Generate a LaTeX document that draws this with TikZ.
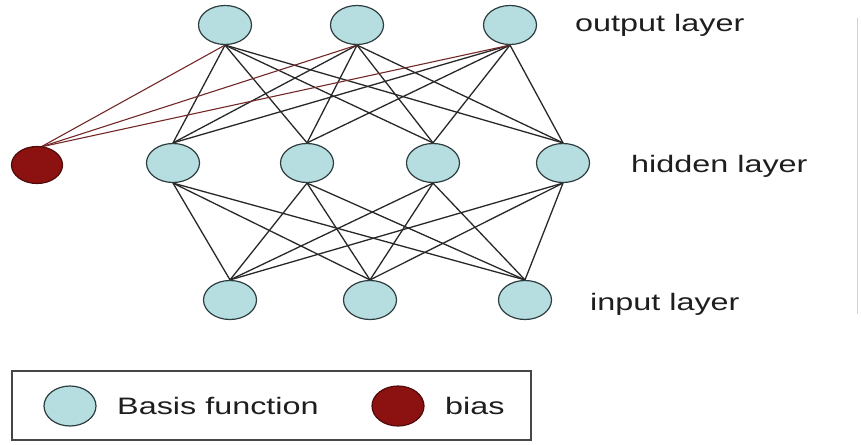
\documentclass[tikz,border=0pt]{standalone}
\usepackage{fontspec}
\setmainfont{Liberation Sans}
\usetikzlibrary{shapes.geometric,backgrounds}

\definecolor{basisfill}{RGB}{182,222,225}
\definecolor{basisedge}{RGB}{45,60,62}
\definecolor{biasfill}{RGB}{140,18,18}
\definecolor{biasedge}{RGB}{80,10,10}
\definecolor{linkcol}{RGB}{40,40,40}
\definecolor{biaslink}{RGB}{115,40,40}
\definecolor{framecol}{RGB}{70,70,70}
\definecolor{textcol}{RGB}{30,30,30}

\newcommand{\widetext}[1]{\scalebox{1.36}[1]{#1}}

\tikzset{
  unit/.style={ellipse, draw=basisedge, line width=1.2pt, fill=basisfill,
    minimum width=53pt, minimum height=39pt, inner sep=0pt},
  biasunit/.style={ellipse, draw=biasedge, line width=1.2pt, fill=biasfill,
    minimum width=51pt, minimum height=37pt, inner sep=0pt},
  link/.style={draw=linkcol, line width=1.3pt},
  blink/.style={draw=biaslink, line width=1.1pt},
  caption/.style={anchor=base west, inner sep=0pt, text=textcol,
    font=\fontsize{23.8}{27}\selectfont},
}

\begin{document}
\begin{tikzpicture}[x=1pt, y=-1pt]
  \useasboundingbox (0,0) rectangle (861,444);

  % output layer
  \node[unit] (o1) at (225,25) {};
  \node[unit] (o2) at (357,25) {};
  \node[unit] (o3) at (510,25) {};
  % hidden layer
  \node[unit] (h1) at (173,163) {};
  \node[unit] (h2) at (307,163) {};
  \node[unit] (h3) at (433,163) {};
  \node[unit] (h4) at (563,163) {};
  % input layer
  \node[unit] (i1) at (230,300) {};
  \node[unit] (i2) at (370,300) {};
  \node[unit] (i3) at (525,300) {};
  % bias unit
  \node[biasunit] (b) at (37,165) {};
  \coordinate (bt) at ([shift={(4,1)}]b.north);

  % connections, kept behind the units
  \begin{pgfonlayer}{background}
    \foreach \o in {o1,o2,o3}
      \foreach \h in {h1,h2,h3,h4}
        \draw[link] (\o.south) -- (\h.north);
    \foreach \h in {h1,h2,h3,h4}
      \foreach \i in {i1,i2,i3}
        \draw[link] (\h.south) -- (\i.north);
    \foreach \o in {o1,o2,o3}
      \draw[blink] (bt) -- (\o.south);
  \end{pgfonlayer}

  % layer captions
  \node[caption] (lo) at (575,32) {\widetext{output layer}};
  \node[caption] (lh) at (631,172) {\widetext{hidden layer}};
  \node[caption] (li) at (590,310) {\widetext{input layer}};

  % thin frame edge on the right
  \draw[gray!35, line width=0.8pt] (857,18) -- (857,314);

  % legend
  \node[draw=framecol, line width=1.4pt, minimum width=519pt, minimum height=69pt,
        inner sep=0pt] (legend) at (271.5,405.5) {};
  \node[unit, minimum width=52pt, minimum height=40pt] (lb) at (70,406) {};
  \node[caption, anchor=west] (lbt) at (117,406) {\widetext{Basis function}};
  \node[biasunit, minimum width=52pt, minimum height=40pt] (lr) at (398,406) {};
  \node[caption, anchor=west] (lrt) at (445,406) {\widetext{bias}};
\end{tikzpicture}
\end{document}
